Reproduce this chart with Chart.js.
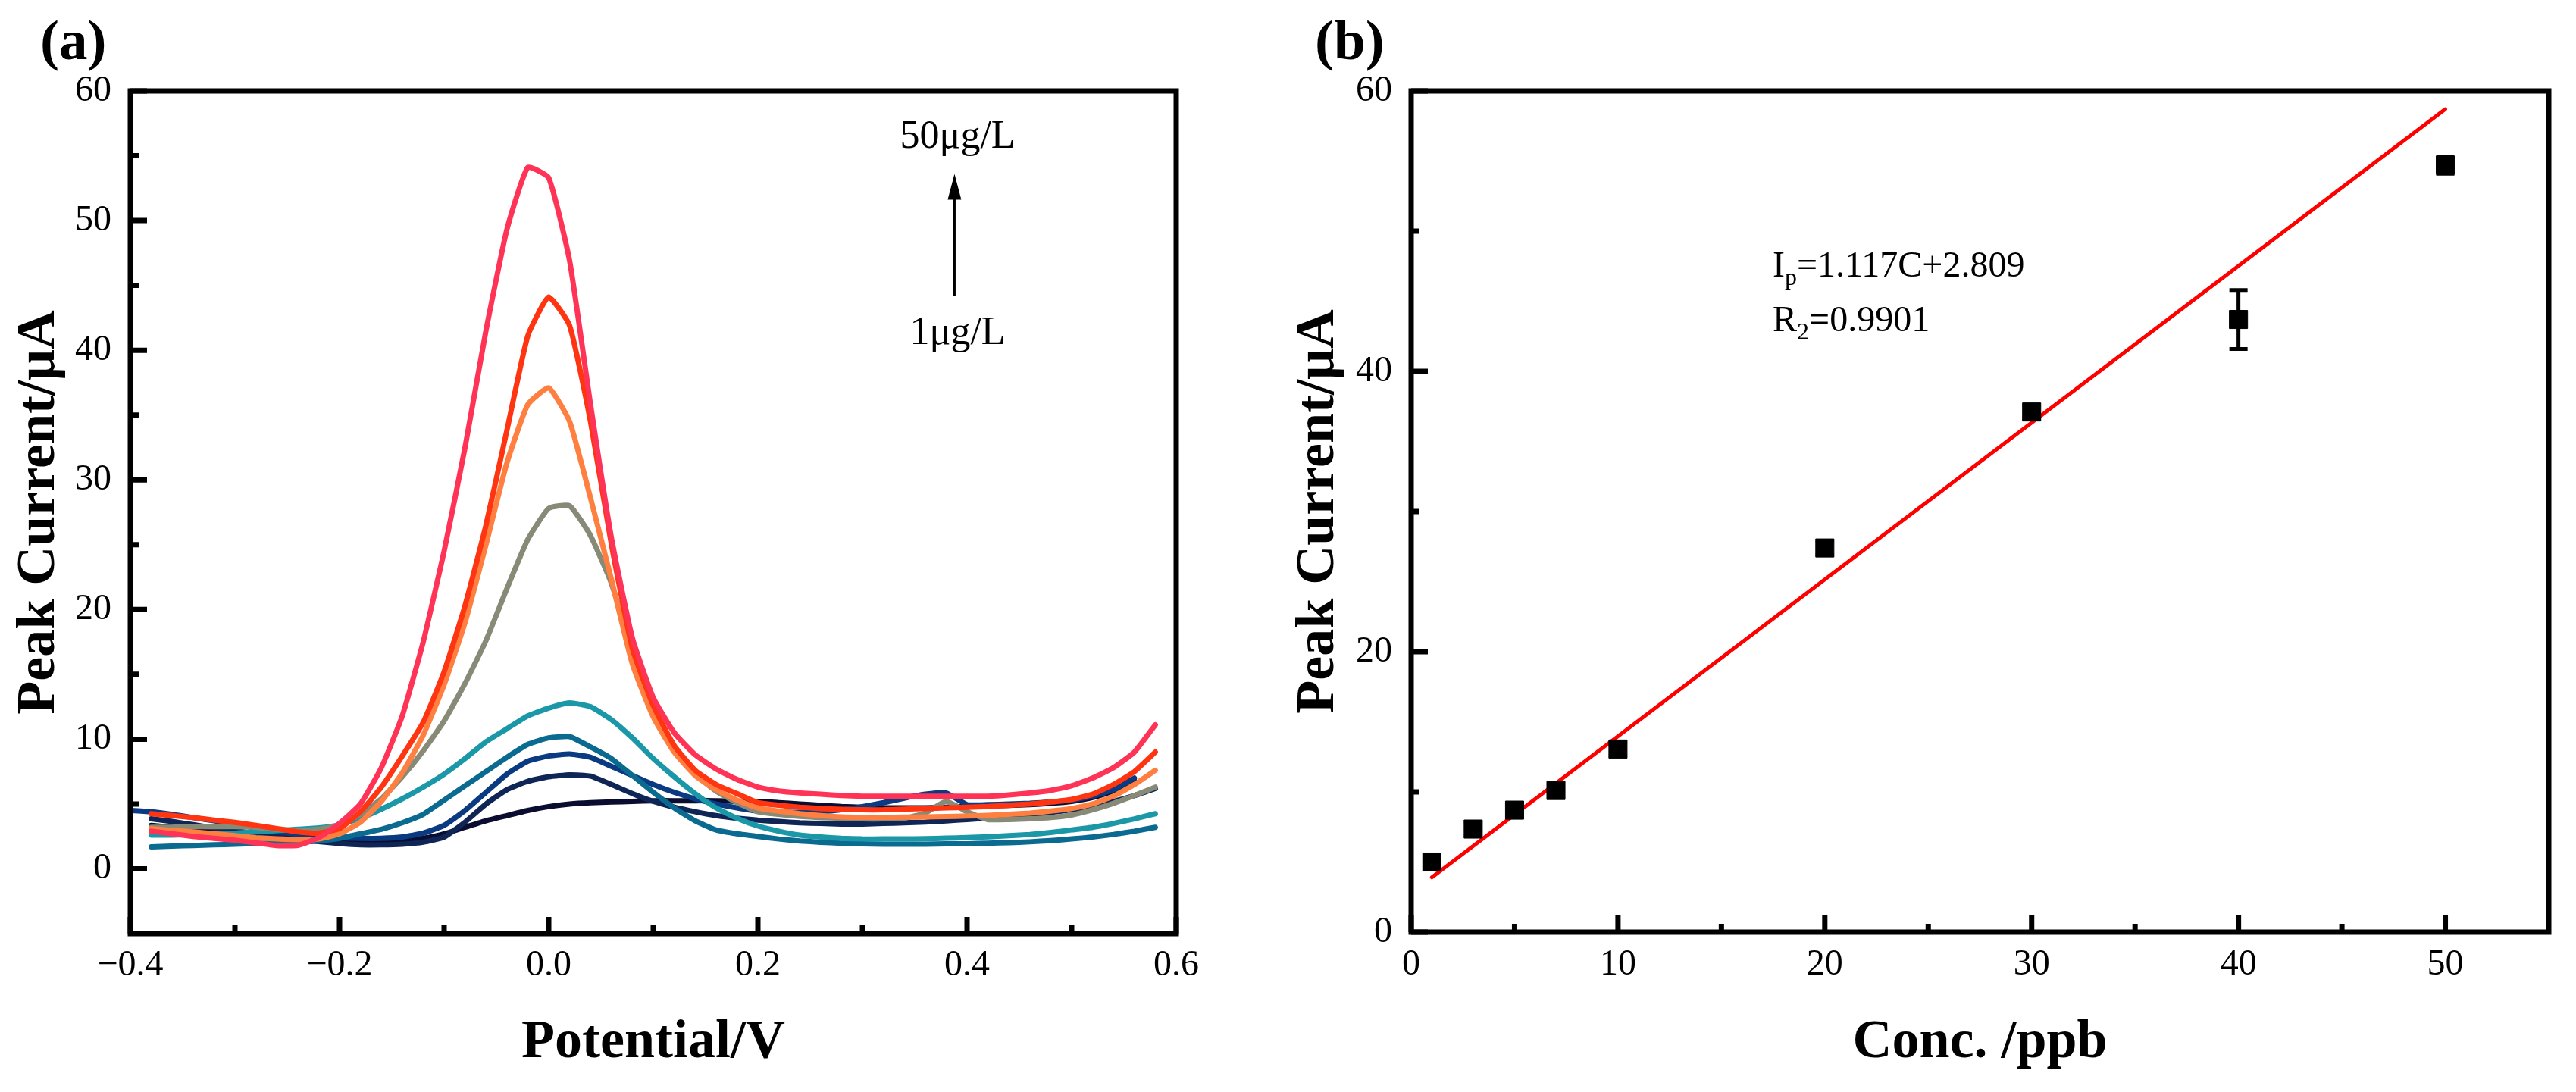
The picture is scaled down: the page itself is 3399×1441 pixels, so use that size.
<!DOCTYPE html>
<html>
<head>
<meta charset="utf-8">
<script src="https://cdn.jsdelivr.net/npm/chart.js@4.4.1/dist/chart.umd.min.js"></script>
<style>
  html, body { margin: 0; padding: 0; background: #fff; }
  #wrap { position: relative; width: 3399px; height: 1441px; }
  .panel { position: absolute; top: 0; height: 1441px; }
  #pa { left: 0; width: 1700px; }
  #pb { left: 1700px; width: 1699px; }
</style>
</head>
<body>
<div id="wrap">
  <div class="panel" id="pa"><canvas id="chartA"></canvas></div>
  <div class="panel" id="pb"><canvas id="chartB"></canvas></div>
</div>
<script>
// (a) DPV 曲線：電位 (V) 與各濃度的電流 (μA)
const potential = [
  -0.40, -0.38, -0.36, -0.34, -0.32, -0.30, -0.28, -0.26, -0.24, -0.22,
  -0.20, -0.18, -0.16, -0.14, -0.12, -0.10, -0.08, -0.06, -0.04, -0.02,
   0.00,  0.02,  0.04,  0.06,  0.08,  0.10,  0.12,  0.14,  0.16,  0.18,
   0.20,  0.22,  0.24,  0.26,  0.28,  0.30,  0.32,  0.34,  0.36,  0.38,
   0.40,  0.42,  0.44,  0.46,  0.48,  0.50,  0.52,  0.54,  0.56,  0.58
];
const curve50 = [null, 2.9, 2.7, 2.5, 2.35, 2.2, 2.0, 1.8, 1.8, 2.4,
  3.5, 5.0, 7.8, 11.8, 17.5, 24.5, 32.5, 41.5, 49.3, 54.1,
  53.3, 46.9, 35.8, 25.5, 17.8, 13.2, 10.5, 8.8, 7.7, 6.9,
  6.3, 6.0, 5.85, 5.75, 5.65, 5.6, 5.6, 5.6, 5.6, 5.6,
  5.6, 5.6, 5.7, 5.85, 6.05, 6.4, 7.0, 7.8, 9.0, 11.1];
const curve40 = [null, 4.25, 4.1, 3.95, 3.75, 3.58, 3.35, 3.1, 2.85, 2.75,
  3.1, 4.4, 6.3, 8.7, 11.3, 15.2, 20.3, 26.5, 33.8, 41.1,
  44.1, 41.9, 34.5, 25.0, 17.0, 12.6, 9.5, 7.6, 6.5, 5.8,
  5.1, 4.9, 4.75, 4.65, 4.58, 4.55, 4.55, 4.6, 4.65, 4.7,
  4.75, 4.8, 4.9, 5.0, 5.15, 5.35, 5.75, 6.5, 7.5, 9.0];
const curve30 = [null, 3.1, 2.95, 2.85, 2.7, 2.55, 2.4, 2.3, 2.25, 2.3,
  2.7, 3.6, 5.2, 7.4, 10.3, 14.2, 19.0, 25.0, 31.3, 35.8,
  37.1, 34.5, 28.6, 22.3, 15.8, 11.7, 9.0, 7.2, 6.1, 5.3,
  4.7, 4.45, 4.25, 4.1, 4.0, 3.97, 3.97, 3.98, 4.0, 4.03,
  4.07, 4.12, 4.2, 4.3, 4.45, 4.65, 5.0, 5.6, 6.5, 7.6];
const curve20 = [null, 3.2, 3.2, 3.25, 3.25, 3.25, 3.2, 3.05, 2.95, 3.05,
  3.35, 4.2, 5.4, 7.1, 9.1, 11.4, 14.3, 17.6, 21.6, 25.4,
  27.8, 28.0, 25.7, 22.0, 16.8, 12.0, 9.2, 7.3, 6.0, 5.1,
  4.4, 4.2, 4.05, 3.95, 3.9, 3.85, 3.85, 3.9, 4.3, 5.2,
  4.4, 3.8, 3.8, 3.85, 3.95, 4.15, 4.55, 5.05, 5.65, 6.3];
const curve10 = [null, 2.6, 2.6, 2.65, 2.7, 2.75, 2.85, 2.95, 3.05, 3.15,
  3.4, 3.9, 4.6, 5.4, 6.3, 7.3, 8.5, 9.8, 10.8, 11.8,
  12.4, 12.8, 12.5, 11.5, 10.1, 8.5, 7.1, 5.8, 4.7, 3.9,
  3.3, 2.9, 2.6, 2.45, 2.35, 2.3, 2.3, 2.3, 2.32, 2.36,
  2.41, 2.47, 2.55, 2.65, 2.8, 3.0, 3.2, 3.5, 3.85, 4.25];
const curve7 = [null, 1.7, 1.75, 1.8, 1.85, 1.9, 1.95, 2.0, 2.05, 2.15,
  2.35, 2.7, 3.05, 3.55, 4.2, 5.3, 6.4, 7.5, 8.6, 9.6,
  10.1, 10.2, 9.4, 8.5, 7.2, 5.9, 4.7, 3.7, 3.0, 2.7,
  2.5, 2.3, 2.15, 2.05, 1.97, 1.92, 1.9, 1.9, 1.9, 1.92,
  1.93, 1.97, 2.02, 2.08, 2.18, 2.3, 2.45, 2.65, 2.9, 3.2];
const curve5 = [4.5, 4.4, 4.2, 3.95, 3.7, 3.45, 3.15, 2.9, 2.65, 2.5,
  2.4, 2.35, 2.35, 2.45, 2.75, 3.35, 4.5, 5.9, 7.3, 8.3,
  8.7, 8.85, 8.6, 7.9, 7.2, 6.5, 5.9, 5.4, 5.0, 4.7,
  4.45, 4.4, 4.35, 4.4, 4.55, 4.8, 5.1, 5.45, 5.75, 5.85,
  4.95, 4.95, 5.0, 5.05, 5.15, 5.3, 5.6, 6.1, 7.0, null];
const curve3 = [null, 3.85, 3.65, 3.4, 3.15, 2.95, 2.7, 2.5, 2.3, 2.1,
  1.95, 1.85, 1.85, 1.9, 2.05, 2.45, 3.6, 5.0, 6.1, 6.75,
  7.1, 7.25, 7.15, 6.5, 5.8, 5.2, 4.75, 4.4, 4.1, 3.9,
  3.75, 3.65, 3.55, 3.5, 3.45, 3.45, 3.5, 3.55, 3.6, 3.7,
  3.8, 3.9, 4.0, 4.15, 4.35, 4.55, 4.85, 5.2, 5.65, 6.2];
const curve1 = [null, 3.35, 3.2, 3.05, 2.9, 2.75, 2.6, 2.45, 2.3, 2.15,
  2.05, 2.0, 2.0, 2.1, 2.35, 2.7, 3.2, 3.7, 4.1, 4.5,
  4.8, 5.0, 5.1, 5.15, 5.2, 5.25, 5.25, 5.25, 5.25, 5.2,
  5.2, 5.1, 5.0, 4.9, 4.8, 4.75, 4.7, 4.7, 4.7, 4.75,
  4.8, 4.85, 4.9, 4.95, 5.05, 5.2, 5.5, 6.0, 6.8, null];

const xTicksA = [-0.4, -0.2, 0, 0.2, 0.4, 0.6];
const xMinorA = [-0.3, -0.1, 0.1, 0.3, 0.5];
const yTicksA = [0, 10, 20, 30, 40, 50, 60];
const yMinorA = [5, 15, 25, 35, 45, 55];

// (b) 檢量線：濃度 (ppb) 與峰電流 (μA)
const concX = [1, 3, 5, 7, 10, 20, 30, 40, 50];
const peakI = [5.0, 7.35, 8.7, 10.1, 13.06, 27.4, 37.1, 43.7, 54.7];
const peakErr = [0.5, 0.5, 0.5, 0.5, 0.5, 0.5, 0.5, 2.1, 0.6];
const fitX = [1, 50];
const fitY = [3.9, 58.7];

const xTicksB = [0, 10, 20, 30, 40, 50];
const xMinorB = [5, 15, 25, 35, 45];
const yTicksB = [0, 20, 40, 60];
const yMinorB = [10, 30, 50];

const SERIF = "'Liberation Serif', 'Times New Roman', serif";
Chart.defaults.color = '#000';
Chart.defaults.font.family = SERIF;

// 外框 + 朝內的主/次刻度
const frameTicks = {
    id: 'frameTicks',
    afterDatasetsDraw(chart, args, opts) {
        const { ctx, chartArea: a, scales: { x, y } } = chart;
        ctx.save();
        ctx.strokeStyle = '#000';
        ctx.lineWidth = 7;
        ctx.lineCap = 'butt';
        ctx.beginPath();
        const xt = (vals, len) => vals.forEach(v => {
            const px = x.getPixelForValue(v);
            ctx.moveTo(px, a.bottom);
            ctx.lineTo(px, a.bottom - len);
        });
        const yt = (vals, len) => vals.forEach(v => {
            const py = y.getPixelForValue(v);
            ctx.moveTo(a.left, py);
            ctx.lineTo(a.left + len, py);
        });
        xt(opts.xMajor, 22); xt(opts.xMinor, 11);
        yt(opts.yMajor, 22); yt(opts.yMinor, 11);
        ctx.stroke();
        ctx.strokeRect(a.left, a.top, a.right - a.left, a.bottom - a.top);
        ctx.restore();
    }
};

// 文字標註、箭頭
const notes = {
    id: 'notes',
    afterDraw(chart, args, opts) {
        const { ctx, scales: { x, y } } = chart;
        ctx.save();
        ctx.fillStyle = '#000';
        ctx.strokeStyle = '#000';
        ctx.textBaseline = 'alphabetic';
        (opts.texts || []).forEach(t => {
            const px = t.px !== undefined ? t.px : x.getPixelForValue(t.x);
            const py = t.py !== undefined ? t.py : y.getPixelForValue(t.y);
            ctx.textAlign = t.align || 'left';
            if (!t.parts) {
                ctx.font = t.font;
                ctx.fillText(t.text, px, py);
                return;
            }
            let cx = px;
            t.parts.forEach(p => {
                ctx.textAlign = 'left';
                ctx.font = p.sub ? t.subFont : t.font;
                ctx.fillText(p.text, cx, p.sub ? py + 11 : py);
                cx += ctx.measureText(p.text).width;
            });
        });
        (opts.arrows || []).forEach(ar => {
            const px = x.getPixelForValue(ar.x);
            const y0 = y.getPixelForValue(ar.from);
            const y1 = y.getPixelForValue(ar.to);
            ctx.lineWidth = 3;
            ctx.beginPath();
            ctx.moveTo(px, y0);
            ctx.lineTo(px, y1 + 20);
            ctx.stroke();
            ctx.beginPath();
            ctx.moveTo(px, y1);
            ctx.lineTo(px - 9, y1 + 34);
            ctx.lineTo(px + 9, y1 + 34);
            ctx.closePath();
            ctx.fill();
        });
        ctx.restore();
    }
};

// 誤差線
const errorBars = {
    id: 'errorBars',
    afterDatasetsDraw(chart, args, opts) {
        if (!opts.xs) return;
        const { ctx, scales: { x, y } } = chart;
        ctx.save();
        ctx.strokeStyle = '#000';
        ctx.lineWidth = 5;
        ctx.beginPath();
        opts.xs.forEach((xv, i) => {
            const px = x.getPixelForValue(xv);
            const top = y.getPixelForValue(opts.ys[i] + opts.err[i]);
            const bot = y.getPixelForValue(opts.ys[i] - opts.err[i]);
            ctx.moveTo(px, top); ctx.lineTo(px, bot);
            ctx.moveTo(px - 12, top); ctx.lineTo(px + 12, top);
            ctx.moveTo(px - 12, bot); ctx.lineTo(px + 12, bot);
        });
        ctx.stroke();
        ctx.restore();
    }
};

function xAxis(min, max, ticks, fmt, height, pad, title) {
    return {
        type: 'linear', min, max,
        afterBuildTicks: s => { s.ticks = ticks.map(v => ({ value: v })); },
        afterFit: s => { s.height = height; s.paddingLeft = 0; s.paddingRight = 0; },
        grid: { display: false, drawTicks: false },
        border: { display: false },
        ticks: { font: { size: 48 }, padding: pad, maxRotation: 0, autoSkip: false, callback: fmt },
        title: { display: true, text: title, font: { size: 72, weight: 'bold', lineHeight: 1 }, padding: { top: 0, bottom: 29 } }
    };
}

function yAxis(min, max, ticks, width, titlePad, title) {
    return {
        type: 'linear', min, max,
        afterBuildTicks: s => { s.ticks = ticks.map(v => ({ value: v })); },
        afterFit: s => { s.width = width; s.paddingTop = 0; s.paddingBottom = 0; },
        grid: { display: false, drawTicks: false },
        border: { display: false },
        ticks: { font: { size: 48 }, padding: 25, autoSkip: false, callback: v => String(v) },
        title: { display: true, text: title, font: { size: 72, weight: 'bold', lineHeight: 1 }, padding: { top: titlePad, bottom: 0 } }
    };
}

const curvesA = [
    { data: curve50, color: '#ff3355' },
    { data: curve40, color: '#ff3511' },
    { data: curve30, color: '#ff7f40' },
    { data: curve20, color: '#888a78' },
    { data: curve10, color: '#1a98a8' },
    { data: curve7, color: '#0a6a90' },
    { data: curve5, color: '#0a3a82' },
    { data: curve3, color: '#0e2556' },
    { data: curve1, color: '#0a0d30' }
];

new Chart(document.getElementById('chartA'), {
    type: 'line',
    data: {
        datasets: curvesA.map(c => ({
            data: potential.map((v, i) => ({ x: v, y: c.data[i] })),
            borderColor: c.color,
            borderWidth: 7,
            borderCapStyle: 'round',
            borderJoinStyle: 'round',
            pointRadius: 0,
            tension: 0.15,
            fill: false
        }))
    },
    options: {
        responsive: true,
        maintainAspectRatio: false,
        animation: false,
        devicePixelRatio: 1,
        events: [],
        layout: { padding: { top: 120, right: 148, left: 0, bottom: 0 } },
        scales: {
            x: xAxis(-0.4, 0.6, xTicksA, v => (v < 0 ? '\u2212' : '') + Math.abs(v).toFixed(1), 209, 14, 'Potential/V'),
            y: yAxis(-5, 60, yTicksA, 172, 16, 'Peak Current/\u03bcA')
        },
        plugins: {
            legend: { display: false },
            tooltip: { enabled: false },
            frameTicks: { xMajor: xTicksA, xMinor: xMinorA, yMajor: yTicksA, yMinor: yMinorA },
            notes: {
                texts: [
                    { text: '(a)', px: 53, py: 78, font: 'bold 75px ' + SERIF },
                    { text: '50\u03bcg/L', x: 0.391, y: 55.6, align: 'center', font: '52px ' + SERIF },
                    { text: '1\u03bcg/L', x: 0.391, y: 40.5, align: 'center', font: '52px ' + SERIF }
                ],
                arrows: [{ x: 0.388, from: 44.2, to: 53.6 }]
            }
        }
    },
    plugins: [frameTicks, notes]
});

new Chart(document.getElementById('chartB'), {
    type: 'scatter',
    data: {
        datasets: [
            {
                data: concX.map((v, i) => ({ x: v, y: peakI[i] })),
                pointStyle: 'rect',
                pointRadius: 17,
                backgroundColor: '#000',
                borderColor: '#000',
                borderWidth: 1
            },
            {
                type: 'line',
                data: fitX.map((v, i) => ({ x: v, y: fitY[i] })),
                borderColor: '#ff0000',
                borderWidth: 5,
                borderCapStyle: 'round',
                pointRadius: 0,
                showLine: true,
                fill: false
            }
        ]
    },
    options: {
        responsive: true,
        maintainAspectRatio: false,
        animation: false,
        devicePixelRatio: 1,
        events: [],
        layout: { padding: { top: 120, right: 36, left: 0, bottom: 0 } },
        scales: {
            x: xAxis(0, 55, xTicksB, v => String(v), 211, 15, 'Conc. /ppb'),
            y: yAxis(0, 60, yTicksB, 162, 4, 'Peak Current/\u03bcA')
        },
        plugins: {
            legend: { display: false },
            tooltip: { enabled: false },
            frameTicks: { xMajor: xTicksB, xMinor: xMinorB, yMajor: yTicksB, yMinor: yMinorB },
            errorBars: { xs: concX, ys: peakI, err: peakErr },
            notes: {
                texts: [
                    { text: '(b)', px: 35, py: 78, font: 'bold 75px ' + SERIF },
                    { x: 17.48, y: 46.76, font: '48px ' + SERIF, subFont: '32px ' + SERIF,
                      parts: [{ text: 'I' }, { text: 'p', sub: true }, { text: '=1.117C+2.809' }] },
                    { x: 17.48, y: 42.86, font: '48px ' + SERIF, subFont: '32px ' + SERIF,
                      parts: [{ text: 'R' }, { text: '2', sub: true }, { text: '=0.9901' }] }
                ]
            }
        }
    },
    plugins: [frameTicks, errorBars, notes]
});
</script>
</body>
</html>
